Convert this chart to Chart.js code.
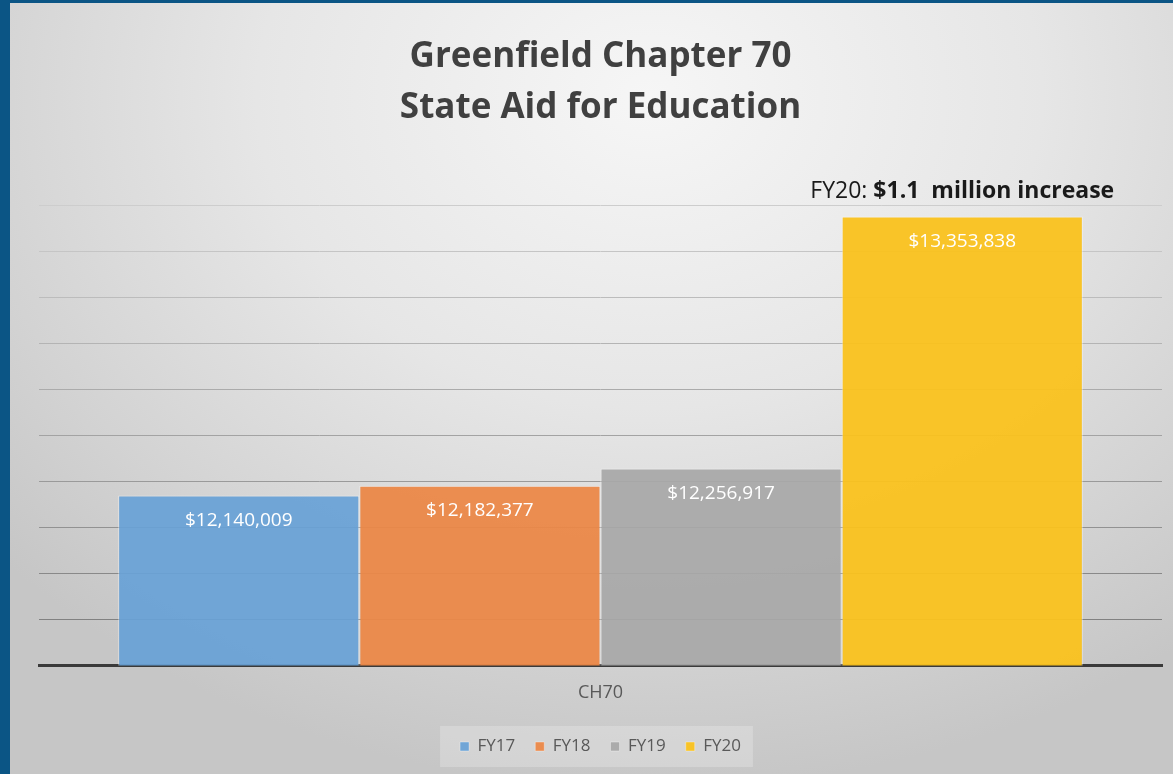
<!DOCTYPE html>
<html>
<head>
<meta charset="utf-8">
<script src="https://cdn.jsdelivr.net/npm/chart.js@4.4.1/dist/chart.umd.min.js"></script>
<style>
  html, body { margin: 0; padding: 0; background: #0b5585; width: 1173px; height: 774px; overflow: hidden; }
  #frame {
    position: absolute; left: 10px; top: 3px; width: 1163px; height: 771px;
    background: radial-gradient(ellipse 75% 90% at 55% 12%, #f6f6f6 0%, #e6e6e6 45%, #d2d2d2 80%, #c6c6c6 100%);
  }
  canvas { display: block; }
</style>
</head>
<body>
<div id="frame"><canvas id="c" width="1163" height="771"></canvas></div>
<script>
const categories = ["CH70"];
const seriesNames = ["FY17", "FY18", "FY19", "FY20"];
const seriesValues = [12140009, 12182377, 12256917, 13353838];
const seriesColors = ["rgba(104,161,214,0.93)", "rgba(235,136,72,0.95)", "rgba(168,168,168,0.93)", "rgba(250,194,30,0.95)"];
const titleLines = ["Greenfield Chapter 70", "State Aid for Education"];
const annotationNormal = "FY20: ";
const annotationBold = "$1.1  million increase";
const yMin = 11400000, yMax = 13400000, yStep = 200000;

const fmt = v => "$" + v.toLocaleString("en-US");
const FONT = "'Open Sans', 'DejaVu Sans', sans-serif";

const valueLabels = {
  id: "valueLabels",
  afterDatasetsDraw(chart) {
    const ctx = chart.ctx;
    ctx.save();
    ctx.font = "19px " + FONT;
    ctx.fillStyle = "#ffffff";
    ctx.textAlign = "center";
    ctx.textBaseline = "middle";
    chart.data.datasets.forEach((ds, i) => {
      const el = chart.getDatasetMeta(i).data[0];
      ctx.fillText(fmt(ds.data[0]), el.x, el.y + 25);
    });
    // annotation over FY20
    const el = chart.getDatasetMeta(3).data[0];
    ctx.fillStyle = "#1a1a1a";
    ctx.textAlign = "left";
    const fN = "23px " + FONT, fB = "bold 23px " + FONT;
    ctx.font = fN; const wN = ctx.measureText(annotationNormal).width;
    ctx.font = fB; const wB = ctx.measureText(annotationBold).width;
    const x0 = el.x - (wN + wB) / 2, yA = el.y - 25;
    ctx.font = fN; ctx.fillText(annotationNormal, x0, yA);
    ctx.font = fB; ctx.fillText(annotationBold, x0 + wN, yA);
    ctx.restore();
  }
};

const legendBg = {
  id: "legendBg",
  beforeDraw(chart) {
    const lg = chart.legend;
    if (!lg) return;
    const ctx = chart.ctx;
    const items = lg.legendHitBoxes;
    if (!items || !items.length) return;
    const l = items[0].left - 20, r = items[items.length - 1].left + items[items.length - 1].width + 12;
    const t = items[0].top - 12, b = items[0].top + items[0].height + 12;
    ctx.save();
    ctx.fillStyle = "rgba(255,255,255,0.22)";
    ctx.fillRect(l, t, r - l, b - t);
    ctx.restore();
  }
};

new Chart(document.getElementById("c"), {
  type: "bar",
  data: {
    labels: categories,
    datasets: seriesNames.map((n, i) => ({
      label: n,
      data: [seriesValues[i]],
      backgroundColor: seriesColors[i],
      borderColor: "rgba(255,255,255,0.45)",
      borderWidth: { top: 1, left: 1, right: 1, bottom: 0 },
      barPercentage: 1.0,
      categoryPercentage: 0.859
    }))
  },
  options: {
    responsive: false,
    animation: false,
    layout: { padding: { left: 29, right: 11, top: 0, bottom: 9 } },
    plugins: {
      title: {
        display: true,
        text: titleLines,
        color: "#404040",
        font: { family: FONT, size: 35, weight: "bold", lineHeight: 1.457 },
        padding: { top: 29, bottom: 72 }
      },
      legend: {
        position: "bottom",
        labels: {
          color: "#595959",
          font: { family: FONT, size: 17 },
          boxWidth: 9, boxHeight: 9,
          padding: 20,
          useBorderRadius: false
        }
      },
      tooltip: { enabled: false }
    },
    scales: {
      x: {
        grid: { display: false },
        border: { display: true, color: "#3a3a3a", width: 3 },
        ticks: { color: "#595959", font: { family: FONT, size: 18 }, padding: 9 },
        afterFit: axis => { axis.height += 5; }
      },
      y: {
        min: yMin, max: yMax,
        ticks: { display: false, stepSize: yStep },
        border: { display: false },
        grid: {
          drawTicks: false,
          lineWidth: 1,
          color: ctx => {
            const n = (yMax - yMin) / yStep;
            const f = ctx.index / n; // 0 bottom .. 1 top
            const c = Math.round(120 + f * 85);
            return ctx.index === 0 ? "rgba(0,0,0,0)" : `rgb(${c},${c},${c})`;
          }
        }
      }
    }
  },
  plugins: [legendBg, valueLabels]
});
</script>
</body>
</html>
